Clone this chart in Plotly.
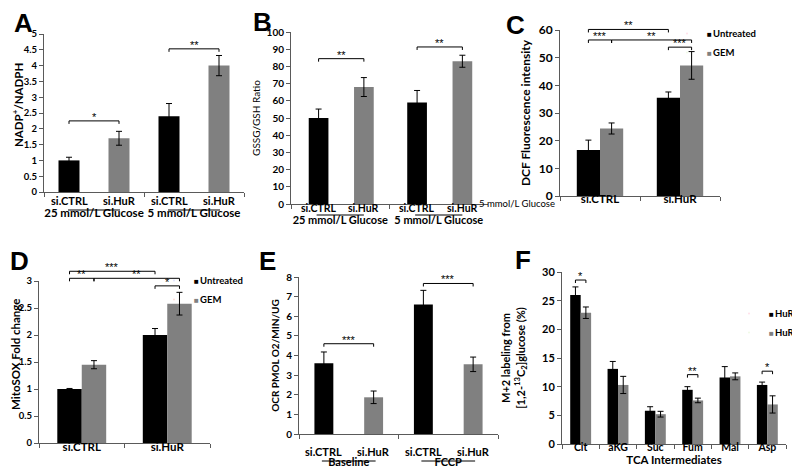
import plotly.graph_objects as go

# ======================= DATA =======================
# Panel A: NADP+/NADPH
A_groups = ["25 mmol/L Glucose", "5 mmol/L Glucose"]
A_series = ["si.CTRL", "si.HuR"]
A_ctrl = [1.0, 2.4]
A_ctrl_err = [0.1, 0.4]
A_hur = [1.7, 4.0]
A_hur_err = [0.22, 0.32]
A_sig = [((0, 0), (0, 1), 2.25, "*"), ((1, 0), (1, 1), 4.53, "**")]

# Panel B: GSSG/GSH ratio
B_groups = ["25 mmol/L Glucose", "5 mmol/L Glucose"]
B_series = ["si.CTRL", "si.HuR"]
B_ctrl = [50, 59]
B_ctrl_err = [5.2, 7.0]
B_hur = [68, 83]
B_hur_err = [5.5, 3.5]
B_sig = [((0, 0), (0, 1), 84.5, "**"), ((1, 0), (1, 1), 91.3, "**")]

# Panel C: DCF fluorescence
C_cats = ["si.CTRL", "si.HuR"]
C_series = ["Untreated", "GEM"]
C_untreated = [16.6, 35.5]
C_untreated_err = [3.6, 2.1]
C_gem = [24.4, 47.2]
C_gem_err = [2.0, 5.0]
C_sig = [((0, 0), (1, 0), 60.2, "**"), ((0, 0), (0, 1), 56.4, "***"),
         ((0, 1), (1, 1), 56.4, "**"), ((1, 0), (1, 1), 53.8, "***")]
C_note = "5 mmol/L Glucose"

# Panel D: MitoSOX
D_cats = ["si.CTRL", "si.HuR"]
D_series = ["Untreated", "GEM"]
D_untreated = [1.0, 2.0]
D_untreated_err = [0.01, 0.12]
D_gem = [1.45, 2.58]
D_gem_err = [0.075, 0.21]
D_sig = [((0, 0), (1, 0), 3.18, "***"), ((0, 0), (0, 1), 3.05, "**"),
         ((0, 1), (1, 1), 3.05, "**"), ((1, 0), (1, 1), 2.91, "*")]

# Panel E: OCR
E_groups = ["Baseline", "FCCP"]
E_series = ["si.CTRL", "si.HuR"]
E_ctrl = [3.6, 6.6]
E_ctrl_err = [0.58, 0.72]
E_hur = [1.87, 3.55]
E_hur_err = [0.32, 0.37]
E_sig = [((0, 0), (0, 1), 4.6, "***"), ((1, 0), (1, 1), 7.67, "***")]

# Panel F: TCA intermediates
F_cats = ["Cit", "aKG", "Suc", "Fum", "Mal", "Asp"]
F_series = ["HuR(+/+)", "HuR(-/-)"]
F_wt = [26.0, 13.1, 5.8, 9.45, 11.6, 10.3]
F_wt_err = [1.4, 1.3, 0.7, 0.55, 1.9, 0.5]
F_ko = [22.9, 10.3, 5.2, 7.6, 11.8, 6.9]
F_ko_err = [1.0, 1.5, 0.5, 0.4, 0.6, 1.5]
F_sig = [((0, 0), (0, 1), 28.6, "*"), ((3, 0), (3, 1), 12.1, "**"), ((5, 0), (5, 1), 12.7, "*")]

# ======================= STYLE =======================
W, H = 800, 468
FONT = "Lato"
BLACK = "#000000"
GRAY = "#808080"
AXIS = "#5a5a5a"

fig = go.Figure()
layout = {}
shapes = []
annos = []


def names(k):
    s = "" if k == 1 else str(k)
    return "x" + s, "y" + s, "xaxis" + s, "yaxis" + s


def bfont(size, weight="bold", family=FONT):
    return dict(family=family, size=size, weight=weight, color="black")


def panel(k, cats, s1, e1, s2, e2, snames, cfg, sig, legend=None, sublabels=False):
    xa, ya, xn, yn = names(k)
    L, R, T, B = cfg["box"]
    n = len(cats)
    hpx = B - T
    centers = cfg["centers"]
    w = cfg["width"]
    for vals, errs, color, c, nm in [(s1, e1, BLACK, centers[0], snames[0]),
                                     (s2, e2, GRAY, centers[1], snames[1])]:
        fig.add_trace(go.Bar(
            x=cats, y=vals, name=nm, offset=c - w / 2, width=w,
            marker=dict(color=color, line=dict(width=0)),
            error_y=dict(type="data", array=errs, visible=True, thickness=1,
                         width=3, color="black"),
            xaxis=xa, yaxis=ya, showlegend=False))
    if legend:
        for color, nm in [(BLACK, snames[0]), (GRAY, snames[1])]:
            fig.add_trace(go.Scatter(
                x=[None], y=[None], mode="markers", marker=dict(opacity=0, size=1),
                name=f'<span style="color:{color};font-size:8px">■</span>&#8201;{nm}',
                legend=legend, xaxis=xa, yaxis=ya, showlegend=True, hoverinfo="skip"))

    xaxis = dict(
        domain=[L / W, R / W], anchor=ya, type="category",
        categoryorder="array", categoryarray=cats, range=[-0.5, n - 0.5],
        showline=True, linecolor=AXIS, linewidth=1, ticks="outside", ticklen=4,
        tickwidth=1, tickcolor=AXIS, tickson="boundaries", showgrid=False,
        zeroline=False, tickfont=bfont(cfg["xfs"]), tickangle=0,
        ticklabelstandoff=cfg.get("xstand", 0))
    if "xtitle" in cfg:
        xaxis["title"] = dict(text=cfg["xtitle"], font=bfont(11.5), standoff=cfg.get("xtstand", 5))
    layout[xn] = xaxis
    yaxis = dict(
        domain=[1 - B / H, 1 - T / H], anchor=xa, range=[0, cfg["ymax"]],
        tick0=0, dtick=cfg["dtick"], showline=True, linecolor=AXIS, linewidth=1,
        ticks="outside", ticklen=4, tickwidth=1, tickcolor=AXIS, showgrid=False,
        zeroline=False, tickfont=bfont(cfg["yfs"]))
    tfont = bfont(cfg["ytfs"], cfg.get("ytw", "bold"))
    if "ytitle_at" in cfg:
        # title placed beside the axis at a fixed spot (left page edge leaves no room)
        tx, ty = cfg["ytitle_at"]
        annos.append(dict(xref="paper", yref="paper", x=tx / W, y=1 - ty / H,
                          text=cfg["ytitle"], textangle=-90, showarrow=False,
                          xanchor="center", yanchor="middle", font=tfont))
    else:
        yaxis["title"] = dict(text=cfg["ytitle"], font=tfont, standoff=cfg.get("ystand", 3))
    layout[yn] = yaxis

    xr, yr = xa + " domain", ya + " domain"

    def xd(ci, si):
        return (ci + centers[si] + 0.5) / n

    # significance brackets
    tick = 3.0 / hpx
    for (c0, s0), (c1, s1_), hv, lab in sig:
        x0, x1, y0 = xd(c0, s0), xd(c1, s1_), hv / cfg["ymax"]
        for a, b, c, d in [(x0, y0, x1, y0), (x0, y0, x0, y0 - tick), (x1, y0, x1, y0 - tick)]:
            shapes.append(dict(type="line", xref=xr, yref=yr, x0=a, y0=b, x1=c, y1=d,
                               line=dict(color="black", width=1)))
        annos.append(dict(xref=xr, yref=yr, x=(x0 + x1) / 2, y=y0, text=lab,
                          showarrow=False, xanchor="center", yanchor="bottom", yshift=-4,
                          font=bfont(11, "normal", "Liberation Sans")))

    # series labels + underline beneath each group
    if sublabels:
        for ci in range(n):
            for si in range(2):
                annos.append(dict(xref=xr, yref=yr, x=xd(ci, si), y=0, text=snames[si],
                                  showarrow=False, xanchor="center", yanchor="middle",
                                  yshift=-cfg["sub_dy"], font=bfont(cfg["sfs"])))
            u = cfg["uline"]
            uy = -cfg["line_dy"] / hpx
            shapes.append(dict(type="line", xref=xr, yref=yr,
                               x0=(ci + 0.5 - u) / n, x1=(ci + 0.5 + u) / n, y0=uy, y1=uy,
                               line=dict(color="black", width=1)))


panel(1, A_groups, A_ctrl, A_ctrl_err, A_hur, A_hur_err, A_series,
      dict(box=(36, 236, 26, 184), ymax=5, dtick=0.5, centers=(-0.25, 0.25), width=0.21,
           xfs=11.5, sfs=11, yfs=9.5, ytitle="NADP<sup>+</sup>/NADPH", ytfs=11.5,
           ytitle_at=(9, 97),
           xstand=10, sub_dy=9, line_dy=18, uline=0.26), A_sig, sublabels=True)

panel(2, B_groups, B_ctrl, B_ctrl_err, B_hur, B_hur_err, B_series,
      dict(box=(283, 480, 24, 196), ymax=100, dtick=10, centers=(-0.22, 0.24), width=0.2,
           xfs=11, sfs=10.5, yfs=10, ytitle="GSSG/GSH Ratio", ytfs=10, ytw="normal", ystand=4,
           xstand=6, sub_dy=4, line_dy=11, uline=0.24), B_sig, sublabels=True)

panel(3, C_cats, C_untreated, C_untreated_err, C_gem, C_gem_err, C_series,
      dict(box=(552, 712, 22, 188), ymax=60, dtick=10, centers=(-0.145, 0.145), width=0.29,
           xfs=11.5, yfs=12, ytitle="DCF Fluorescence intensity", ytfs=12, ystand=5, xstand=-8),
      C_sig, legend="legend")

panel(4, D_cats, D_untreated, D_untreated_err, D_gem, D_gem_err, D_series,
      dict(box=(31, 202, 273, 435), ymax=3, dtick=0.5, centers=(-0.143, 0.143), width=0.286,
           xfs=11.5, yfs=9.5, ytitle="MitoSOX Fold change", ytfs=11.5,
           ytitle_at=(7, 347), xstand=-7),
      D_sig, legend="legend2")

panel(5, E_groups, E_ctrl, E_ctrl_err, E_hur, E_hur_err, E_series,
      dict(box=(291, 490, 269, 426), ymax=8, dtick=1, centers=(-0.25, 0.25), width=0.19,
           xfs=11, sfs=11, yfs=10, ytitle="OCR PMOL O2/MIN/UG", ytfs=10, ystand=4,
           xstand=18, sub_dy=17, line_dy=27, uline=0.27), E_sig, sublabels=True)

panel(6, F_cats, F_wt, F_wt_err, F_ko, F_ko_err, F_series,
      dict(box=(554, 778, 264, 436), ymax=30, dtick=5, centers=(-0.14, 0.14), width=0.28,
           xfs=10.5, yfs=11, ytitle="M+2 labeling from<br>[1,2-<sup>13</sup>C<sub>2</sub>]glucose (%)",
           ytfs=11, ystand=14, xstand=-7, xtitle="TCA Intermediates", xtstand=2),
      F_sig, legend="legend3")

# note left of panel C's category labels
annos.append(dict(xref="paper", yref="paper", x=509 / W, y=1 - 195 / H, text=C_note,
                  showarrow=False, xanchor="center", yanchor="middle",
                  font=bfont(9.5, "normal")))

# panel letters
for lab, px, py in [("A", 15, 15), ("B", 254, 14), ("C", 507, 17),
                    ("D", 11, 253), ("E", 259, 253), ("F", 515, 252)]:
    annos.append(dict(xref="paper", yref="paper", x=px / W, y=1 - py / H, text=lab,
                      showarrow=False, xanchor="center", yanchor="middle",
                      font=dict(family="Liberation Sans", size=26, weight="bold", color="black")))


def leg(x_sq, y_top):
    return dict(x=(x_sq - 42) / W, y=1 - y_top / H, xanchor="left", yanchor="top",
                bgcolor="rgba(0,0,0,0)", borderwidth=0, itemwidth=30,
                font=bfont(9.5), tracegroupgap=0, itemclick=False, itemdoubleclick=False)


fig.update_layout(
    width=W, height=H,
    margin=dict(l=0, r=0, t=0, b=0, autoexpand=False),
    paper_bgcolor="white", plot_bgcolor="white",
    barmode="overlay",
    font=dict(family=FONT, color="black"),
    legend=leg(701, 11), legend2=leg(188, 258), legend3=leg(763, 291),
    shapes=shapes, annotations=annos,
    **layout,
)

fig.write_html("out.html")
